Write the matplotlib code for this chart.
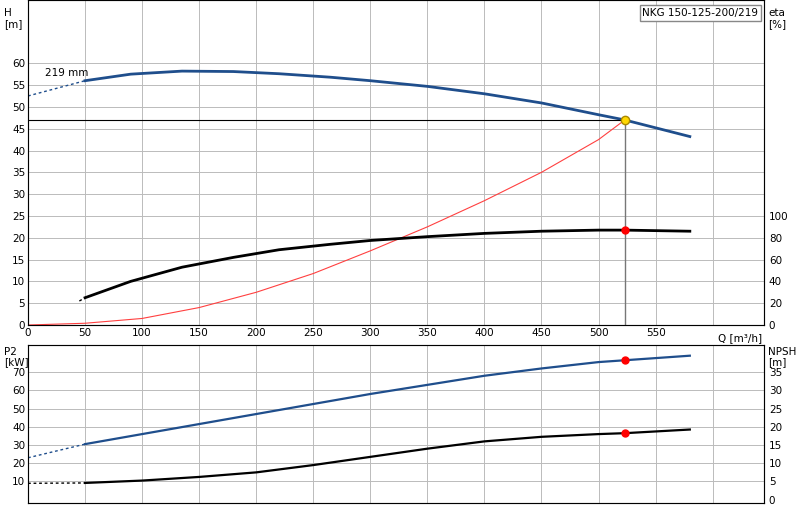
import matplotlib.pyplot as plt

q_h = [50, 90, 135, 180, 220, 265, 300, 350, 400, 450, 500, 523, 580]
h = [56, 57.5, 58.2, 58.1, 57.6, 56.8, 56, 54.7, 53, 50.9, 48.2, 47, 43.2]
h_ext_q = [0, 50]
h_ext = [52.5, 56]
q_eta = [50, 90, 135, 180, 220, 265, 300, 350, 400, 450, 500, 523, 580]
eta = [25, 40, 53, 62, 69, 74, 77.5, 81, 84, 86, 87, 87, 86]
q_sys = [0, 50, 100, 150, 200, 250, 300, 350, 400, 450, 500, 523]
h_sys = [0, 0.4, 1.5, 4, 7.5, 11.8, 17, 22.5, 28.5, 35, 42.5, 47]
q_p2 = [50, 100, 150, 200, 250, 300, 350, 400, 450, 500, 523, 580]
p2 = [30.5, 36, 41.5, 47, 52.5, 58, 63, 68, 72, 75.5, 76.5, 79]
p2_ext = [23, 30.5]
npsh = [4.6, 5.25, 6.25, 7.5, 9.5, 11.75, 14, 16, 17.25, 18, 18.25, 19.25]
npsh_ext = [4.5, 4.6]
q_op, h_op, eta_op, p2_op, npsh_op = 523, 47, 87, 76.5, 18.25

blue = "#1f4e8c"
fig = plt.figure(figsize=(8, 5.2), dpi=100)
ax = fig.add_axes([0.035, 0.375, 0.92, 0.625])
ax2 = fig.add_axes([0.035, 0.032, 0.92, 0.305])

for a in (ax, ax2):
    a.set_xlim(0, 645)
    a.set_xticks(range(0, 650, 50))
    a.grid(color="#bbbbbb", lw=0.7)
    a.tick_params(labelsize=7.5, length=0, pad=2)
    for s in a.spines.values():
        s.set_color("#888888")
ax.set_xticklabels([str(v) for v in range(0, 600, 50)] + [""])

ax.set_ylim(0, 74.5)
ax.set_yticks(range(0, 65, 5))
ax.plot(h_ext_q, h_ext, ls=(0, (2, 2)), color=blue, lw=1)
ax.plot(q_h, h, color=blue, lw=2)
ax.plot(q_sys, h_sys, color="#ff4040", lw=0.8)
ax.plot([0, q_op], [h_op, h_op], color="black", lw=0.8)
ax.plot([q_op, q_op], [0, h_op], color="#777777", lw=1)
ax.text(15, 57, "219 mm", fontsize=7.5)
ax.text(605, -3, "Q [m³/h]", fontsize=7.5, ha="left", va="center")
axe = ax.twinx()
axe.set_ylim(0, 298)
axe.set_yticks(range(0, 101, 20))
axe.tick_params(labelsize=7.5, length=0)
axe.plot([45, 50], [22, 25], ls=(0, (2, 2)), color="black", lw=1)
axe.plot(q_eta, eta, color="black", lw=2)
axe.plot(q_op, eta_op, "o", color="red", ms=5)
ax.plot(q_op, h_op, "o", mfc="#ffd700", mec="#aa8800", ms=6, zorder=5)
fig.text(0.005, 0.985, "H\n[m]", fontsize=7.5, va="top")
fig.text(0.96, 0.985, "eta\n[%]", fontsize=7.5, va="top")
fig.text(0.948, 0.985, "NKG 150-125-200/219", fontsize=7.5, va="top",
         ha="right", bbox=dict(fc="white", ec="#888888", pad=2))

ax2.set_ylim(-2, 85)
ax2.set_yticks(range(10, 80, 10))
ax2.plot(h_ext_q, p2_ext, ls=(0, (2, 2)), color=blue, lw=1)
ax2.plot(q_p2, p2, color=blue, lw=1.6)
ax2.plot(q_op, p2_op, "o", color="red", ms=5)
axn = ax2.twinx()
axn.set_ylim(-1, 42.5)
axn.set_yticks(range(0, 40, 5))
axn.tick_params(labelsize=7.5, length=0)
axn.plot(h_ext_q, npsh_ext, ls=(0, (2, 2)), color="black", lw=1)
axn.plot(q_p2, npsh, color="black", lw=1.6)
axn.plot(q_op, npsh_op, "o", color="red", ms=5)
ax2.set_xticklabels([])
fig.text(0.005, 0.332, "P2\n[kW]", fontsize=7.5, va="top", linespacing=1.0)
fig.text(0.96, 0.332, "NPSH\n[m]", fontsize=7.5, va="top", linespacing=1.0)

fig.savefig("out.png")
